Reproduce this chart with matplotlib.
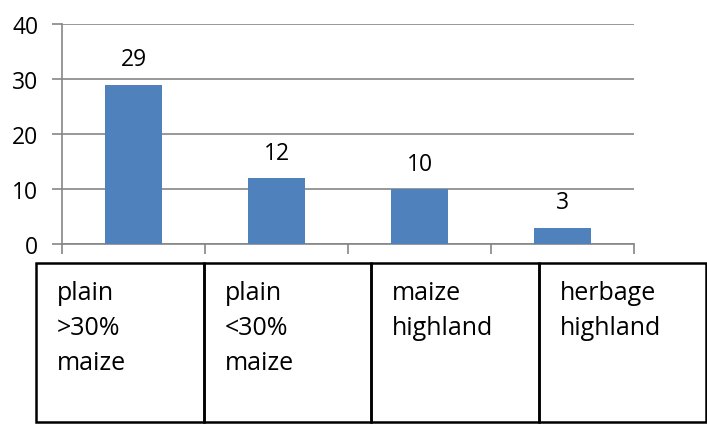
import matplotlib.pyplot as plt
from matplotlib.patches import Rectangle

# data
categories = ["plain\n>30%\nmaize", "plain\n<30%\nmaize", "maize\nhighland", "herbage\nhighland"]
values = [29, 12, 10, 3]
y_ticks = [0, 10, 20, 30, 40]

plt.rcParams['font.family'] = ['Open Sans', 'DejaVu Sans']

W, H = 707, 427
fig = plt.figure(figsize=(W / 100, H / 100), dpi=100)

# bar chart area (pixel positions of the plot box)
left, right, top, bottom = 62, 634, 25, 245
ax = fig.add_axes([left / W, 1 - bottom / H, (right - left) / W, (bottom - top) / H])

x = range(len(values))
bars = ax.bar(x, values, width=0.4, color='#4f81bd', zorder=3)
ax.set_xlim(-0.5, len(values) - 0.5)
ax.set_ylim(0, 40)
ax.set_yticks(y_ticks)
ax.tick_params(axis='y', labelsize=16.5, length=7, width=1.2, color='#868686', pad=10)
ax.set_xticks([i - 0.5 for i in range(len(values) + 1)])
ax.set_xticklabels([])
ax.tick_params(axis='x', length=7, width=1.2, color='#868686')
ax.grid(axis='y', color='#868686', linewidth=1.2, zorder=0)
for s in ['top', 'right']:
    ax.spines[s].set_visible(False)
for s in ['left', 'bottom']:
    ax.spines[s].set_color('#868686')
    ax.spines[s].set_linewidth(1.2)

for b, v in zip(bars, values):
    ax.annotate(str(v), (b.get_x() + b.get_width() / 2, v), xytext=(0, 18),
                textcoords='offset points', ha='center', va='center', fontsize=16.5)

# category table below
t_left, t_right, t_top, t_bottom = 36, 706, 264, 423
tab = fig.add_axes([t_left / W, 1 - t_bottom / H, (t_right - t_left) / W, (t_bottom - t_top) / H])
tab.set_xlim(0, len(categories))
tab.set_ylim(0, 1)
tab.axis('off')
th = t_bottom - t_top
for i, cat in enumerate(categories):
    tab.add_patch(Rectangle((i, 0), 1, 1, fill=False, edgecolor='black', linewidth=1.8, clip_on=False))
    for k, line in enumerate(cat.split("\n")):
        y = 1 - (30 + k * 35) / th
        tab.text(i + 0.125, y, line, ha='left', va='center', fontsize=18)

fig.savefig('out.png', dpi=100)
